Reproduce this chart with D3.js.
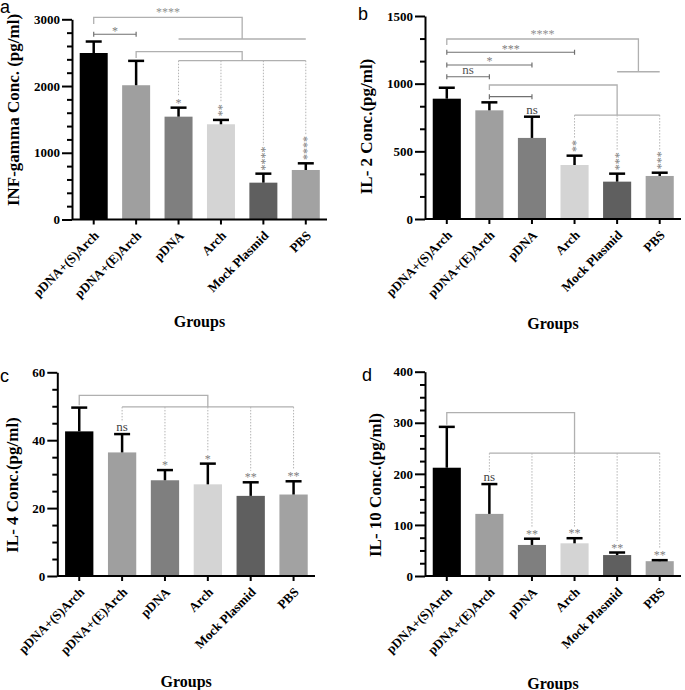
<!DOCTYPE html>
<html><head><meta charset="utf-8">
<script src="https://cdn.jsdelivr.net/npm/d3@7"></script>
<style>body{margin:0;background:#fff} svg{display:block}</style>
</head><body>
<svg id="chart" width="685" height="690"></svg>
<script>
// ---------------- data ----------------
const categories = ["pDNA+(S)Arch", "pDNA+(E)Arch", "pDNA", "Arch", "Mock Plasmid", "PBS"];
const barColors = ["#000000", "#9f9f9f", "#7f7f7f", "#d4d4d4", "#5f5f5f", "#a2a2a2"];

const ifnMean = [2495, 2012, 1541, 1427, 552, 742];
const ifnSD   = [172, 365, 135, 65, 135, 100];
const ifnTicks = [0, 1000, 2000, 3000];
const ifnMinorStep = 200;
const ifnSig = ["", "", "*", "**", "****", "****"];
const ifnPairs = [{from: 0, to: 1, level: 2776, label: "*"}];
const ifnBrackets = [
  {from: 0, group: [2, 5], top: 3030, leg: 2930, line: 2705, label: "****", drops: false},
  {from: 1, group: [2, 5], top: 2515, leg: 2420, line: 2380, label: "", drops: true}
];

const il2Mean = [889, 803, 599, 399, 276, 318];
const il2SD   = [81, 59, 157, 69, 59, 24];
const il2Ticks = [0, 500, 1000, 1500];
const il2MinorStep = 500 / 3;
const il2Sig = ["", "", "ns", "**", "***", "***"];
const il2Pairs = [
  {from: 0, to: 1, level: 1051, label: "ns"},
  {from: 0, to: 2, level: 1138, label: "*"},
  {from: 0, to: 3, level: 1232, label: "***"},
  {from: 1, to: 2, level: 904, label: ""}
];
const il2Brackets = [
  {from: 0, group: [4, 5], top: 1330, leg: 1286, line: 1088, label: "****", drops: false},
  {from: 1, group: [3, 5], top: 990, leg: 953, line: 768, label: "", drops: true}
];

const il4Mean = [42.6, 36.4, 28.2, 27.0, 23.6, 24.0];
const il4SD   = [7.0, 5.4, 3.0, 6.1, 4.0, 3.9];
const il4Ticks = [0, 20, 40, 60];
const il4MinorStep = 5;
const il4Sig = ["", "ns", "*", "*", "**", "**"];
const il4Pairs = [];
const il4Brackets = [
  {from: 0, group: [1, 5], top: 53.2, leg: 50.3, line: 49.8, label: "", drops: true}
];

const il10Mean = [212, 121.6, 60.8, 64, 41, 29];
const il10SD   = [80, 58.4, 12.2, 10, 5, 2];
const il10Ticks = [0, 100, 200, 300, 400];
const il10MinorStep = 25;
const il10Sig = ["", "ns", "**", "**", "**", "**"];
const il10Pairs = [];
const il10Brackets = [
  {from: 0, group: [1, 5], top: 320, leg: 296, line: 240.6, label: "", drops: true}
];

// ---------------- layout ----------------
const panels = [
  {letter: "a", title: "INF-gamma Conc. (pg/ml)", mean: ifnMean, sd: ifnSD, ticks: ifnTicks, minorStep: ifnMinorStep,
   sig: ifnSig, vertical: true, pairs: ifnPairs, brackets: ifnBrackets,
   L: {axisX: 72, xEnd: 327, y0: 219.5, yTop: 19.3, titleX: 18.5, titleY: 110, lx: 0, ly: 13, groupsY: 327}},
  {letter: "b", title: "IL- 2 Conc.(pg/ml)", mean: il2Mean, sd: il2SD, ticks: il2Ticks, minorStep: il2MinorStep,
   sig: il2Sig, vertical: true, pairs: il2Pairs, brackets: il2Brackets,
   L: {axisX: 425, xEnd: 681, y0: 219, yTop: 16, titleX: 372, titleY: 126.5, lx: 358, ly: 20, groupsY: 328.5}},
  {letter: "c", title: "IL- 4 Conc.(pg/ml)", mean: il4Mean, sd: il4SD, ticks: il4Ticks, minorStep: il4MinorStep,
   sig: il4Sig, vertical: false, pairs: il4Pairs, brackets: il4Brackets,
   L: {axisX: 57.3, xEnd: 315, y0: 576, yTop: 372.3, titleX: 18, titleY: 485, lx: 0, ly: 382, groupsY: 687}},
  {letter: "d", title: "IL- 10 Conc.(pg/ml)", mean: il10Mean, sd: il10SD, ticks: il10Ticks, minorStep: il10MinorStep,
   sig: il10Sig, vertical: false, pairs: il10Pairs, brackets: il10Brackets,
   L: {axisX: 425, xEnd: 681, y0: 576, yTop: 371.7, titleX: 381, titleY: 485, lx: 362, ly: 381, groupsY: 688.5}}
];

const SERIF = "'Liberation Serif','Times New Roman',serif";
const svg = d3.select("#chart");

function drawPanel(p) {
  const L = p.L;
  const g = svg.append("g");
  const yMax = p.ticks[p.ticks.length - 1];
  const y = d3.scaleLinear().domain([0, yMax]).range([L.y0, L.yTop]);
  const x = d3.scaleBand().domain(categories).range([L.axisX + 0.5, L.xEnd])
    .paddingInner(0.34).paddingOuter(0.17);
  const cx = i => x(categories[i]) + x.bandwidth() / 2;

  // bars
  g.selectAll("rect.bar").data(p.mean).join("rect").attr("class", "bar")
    .attr("x", (d, i) => x(categories[i])).attr("width", x.bandwidth())
    .attr("y", d => y(d)).attr("height", d => L.y0 - y(d))
    .attr("fill", (d, i) => barColors[i]);

  // error bars (upper)
  const eb = g.selectAll("g.eb").data(p.mean).join("g").attr("class", "eb");
  eb.append("line").attr("x1", (d, i) => cx(i)).attr("x2", (d, i) => cx(i))
    .attr("y1", d => y(d)).attr("y2", (d, i) => y(d + p.sd[i]))
    .attr("stroke", "#000").attr("stroke-width", 2.5);
  eb.append("line").attr("x1", (d, i) => cx(i) - 8).attr("x2", (d, i) => cx(i) + 8)
    .attr("y1", (d, i) => y(d + p.sd[i])).attr("y2", (d, i) => y(d + p.sd[i]))
    .attr("stroke", "#000").attr("stroke-width", 2.5);

  // y axis: minor ticks
  const minorVals = d3.range(0, yMax + 1e-6, p.minorStep).filter(v => !p.ticks.some(t => Math.abs(t - v) < 1e-6));
  const minorAx = g.append("g").attr("transform", `translate(${L.axisX},0)`)
    .call(d3.axisLeft(y).tickValues(minorVals).tickSize(5).tickFormat(""));
  minorAx.select(".domain").remove();
  minorAx.selectAll("line").attr("stroke", "#000").attr("stroke-width", 2);

  // y axis: major ticks
  const ax = g.append("g").attr("transform", `translate(${L.axisX},0)`)
    .call(d3.axisLeft(y).tickValues(p.ticks).tickSize(10).tickSizeOuter(0).tickPadding(2).tickFormat(d3.format("d")));
  ax.select(".domain").attr("stroke", "#000").attr("stroke-width", 2);
  ax.selectAll("line").attr("stroke", "#000").attr("stroke-width", 2);
  ax.selectAll("text").style("font-family", SERIF).style("font-weight", "bold").style("font-size", "13px").attr("fill", "#000");

  // x axis
  const xa = g.append("g").attr("transform", `translate(0,${L.y0})`)
    .call(d3.axisBottom(x).tickSize(5).tickSizeOuter(0));
  xa.select(".domain").remove();
  xa.selectAll("line").attr("stroke", "#000").attr("stroke-width", 2);
  xa.selectAll("text").attr("x", 0).attr("y", 0).attr("dy", 0)
    .attr("transform", "translate(6,17) rotate(-45)")
    .style("text-anchor", "end").style("font-family", SERIF).style("font-weight", "bold")
    .style("font-size", "13px").attr("fill", "#000");
  g.append("line").attr("x1", L.axisX).attr("x2", L.xEnd).attr("y1", L.y0).attr("y2", L.y0)
    .attr("stroke", "#000").attr("stroke-width", 2);

  // titles and panel letter
  g.append("text").attr("transform", `translate(${L.titleX},${L.titleY}) rotate(-90)`)
    .attr("text-anchor", "middle").style("font-family", SERIF).style("font-weight", "bold")
    .style("font-size", "17px").text(p.title);
  g.append("text").attr("x", (L.axisX + L.xEnd) / 2).attr("y", L.groupsY).attr("text-anchor", "middle")
    .style("font-family", SERIF).style("font-weight", "bold").style("font-size", "16px").text("Groups");
  g.append("text").attr("x", L.lx).attr("y", L.ly)
    .style("font-family", "'Liberation Sans',Arial,sans-serif").style("font-size", "18px").text(p.letter);

  // significance labels above bars
  const labelTop = [];
  p.sig.forEach((s, i) => {
    const top = y(p.mean[i] + p.sd[i]);
    if (!s) { labelTop.push(top); return; }
    if (s === "ns") {
      const base = top - 3;
      g.append("text").attr("x", cx(i)).attr("y", base).attr("text-anchor", "middle")
        .style("font-family", SERIF).style("font-size", "13px").attr("fill", "#444").text(s);
      labelTop.push(base - 7);
    } else if (p.vertical && s.length > 1) {
      const len = s.length * 5.6;
      const centerY = top - 4 - len / 2;
      g.append("text").attr("transform", `translate(${cx(i) + 5.4},${centerY}) rotate(-90)`)
        .attr("text-anchor", "middle").style("font-family", SERIF).style("font-size", "12px")
        .attr("fill", "#808080").text(s);
      labelTop.push(top - 4 - len);
    } else {
      const base = top - 1;
      g.append("text").attr("x", cx(i)).attr("y", base).attr("text-anchor", "middle")
        .style("font-family", SERIF).style("font-size", "12px").attr("fill", "#808080").text(s);
      labelTop.push(base - 8.5);
    }
  });

  // pairwise comparison brackets with end caps
  p.pairs.forEach(b => {
    const yy = y(b.level), x1 = cx(b.from), x2 = cx(b.to);
    g.append("path").attr("d", `M${x1},${yy - 2.5}V${yy + 2.5}M${x1},${yy}H${x2}M${x2},${yy - 2.5}V${yy + 2.5}`)
      .attr("stroke", "#707070").attr("stroke-width", 1.2).attr("fill", "none");
    if (b.label) {
      const isNs = b.label === "ns";
      g.append("text").attr("x", (x1 + x2) / 2).attr("y", isNs ? yy - 2.5 : yy + 0.5)
        .attr("text-anchor", "middle").style("font-family", SERIF)
        .style("font-size", isNs ? "13px" : "12px").attr("fill", isNs ? "#555" : "#808080").text(b.label);
    }
  });

  // group brackets
  p.brackets.forEach(b => {
    const gx1 = cx(b.group[0]), gx2 = cx(b.group[1]);
    const legX = (gx1 + gx2) / 2, fx = cx(b.from);
    const yt = y(b.top), yl = y(b.leg), yg = y(b.line);
    g.append("path").attr("d", `M${fx},${yl}V${yt}H${legX}V${yg}M${gx1},${yg}H${gx2}`)
      .attr("stroke", "#b0b0b0").attr("stroke-width", 1.3).attr("fill", "none");
    if (b.label) {
      g.append("text").attr("x", (fx + legX) / 2).attr("y", yt - 1.5).attr("text-anchor", "middle")
        .style("font-family", SERIF).style("font-size", "12px").attr("fill", "#909090").text(b.label);
    }
    if (b.drops) {
      for (let i = b.group[0]; i <= b.group[1]; i++) {
        g.append("line").attr("x1", cx(i)).attr("x2", cx(i)).attr("y1", yg).attr("y2", labelTop[i] - 2)
          .attr("stroke", "#b4b4b4").attr("stroke-width", 1).attr("stroke-dasharray", "1.5,1.5");
      }
    }
  });
}

panels.forEach(drawPanel);
</script>
</body></html>
